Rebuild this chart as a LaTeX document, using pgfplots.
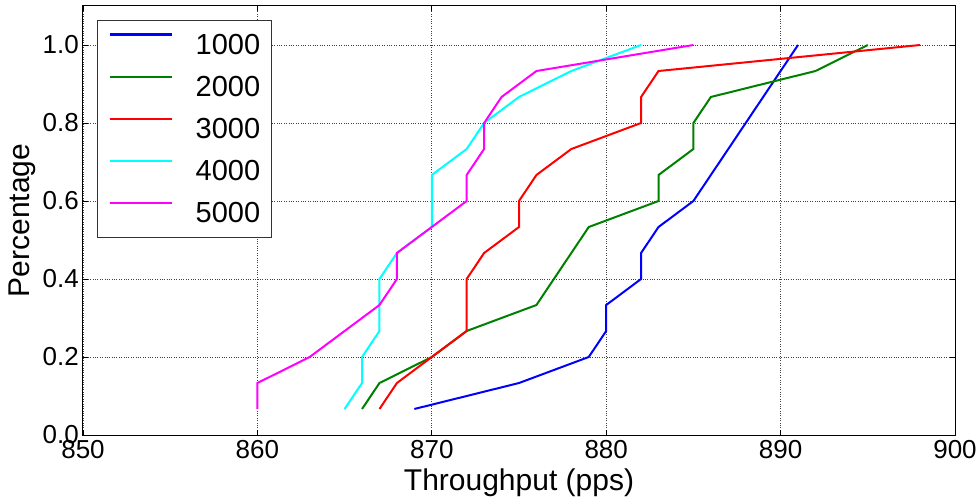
\documentclass[border=0pt]{standalone}
\usepackage{fontspec}
\setmainfont{Liberation Sans}
\usepackage{pgfplots}
\usepackage{pgfplotstable}
\pgfplotsset{compat=1.18}

\definecolor{mblue}{RGB}{0,0,255}
\definecolor{mgreen}{RGB}{0,128,0}
\definecolor{mred}{RGB}{255,0,0}
\definecolor{mcyan}{RGB}{0,255,255}
\definecolor{mmagenta}{RGB}{255,0,255}

% throughput (pps) of each run, sorted; y = i/15
\pgfplotstableread{
y      a    b    c    d    e
0.0667 869  866  867  865  860
0.1333 875  867  868  866  860
0.2000 879  870  870  866  863
0.2667 880  872  872  867  865
0.3333 880  876  872  867  867
0.4000 882  877  872  867  868
0.4667 882  878  873  868  868
0.5333 883  879  875  870  870
0.6000 885  883  875  870  872
0.6667 886  883  876  870  872
0.7333 887  885  878  872  873
0.8000 888  885  882  873  873
0.8667 889  886  882  875  874
0.9333 890  892  883  878  876
1.0000 891  895  898  882  885
}\runs

\begin{document}
\begin{tikzpicture}
\useasboundingbox (-83bp,-65bp) rectangle (897bp,435bp);
\begin{axis}[
  scale only axis, width=872bp, height=429bp,
  xmin=850, xmax=900, ymin=0, ymax=1.1,
  xtick={850,860,...,900}, ytick={0,0.2,0.4,0.6,0.8,1.0},
  yticklabel style={/pgf/number format/fixed, /pgf/number format/fixed zerofill, /pgf/number format/precision=1},
  /pgf/number format/assume math mode=true,
  tick label style={font=\fontsize{26bp}{30bp}\selectfont, inner sep=0pt},
  xticklabel style={anchor=north, yshift=-5bp},
  yticklabel style={anchor=east, xshift=-4bp},
  tick align=inside, tick pos=both, major tick length=5bp,
  tick style={black, line width=0.8bp},
  axis line style={black, line width=1bp},
  grid=major, grid style={dotted, black!75, line width=0.7bp},
  xlabel={Throughput (pps)}, ylabel={Percentage},
  label style={font=\fontsize{30bp}{34bp}\selectfont, inner sep=0pt},
  xlabel style={at={(axis description cs:0.5,0)}, anchor=base, yshift=-55bp},
  ylabel style={at={(axis description cs:0,0.5)}, anchor=base, yshift=53bp},
  legend style={at={(axis description cs:0,1)}, anchor=north west, xshift=14bp, yshift=-14bp,
    draw=black!80, line width=0.8bp, inner xsep=11bp, inner ysep=13bp,
    font=\fontsize{29bp}{33bp}\selectfont, row sep=20bp, column sep=0bp,
    nodes={inner sep=0pt}},
  legend cell align=left,
  legend image code/.code={\draw[#1, line width=2.5bp] (0bp,10bp) -- (62bp,10bp); \path (85bp,10bp);},
  every axis plot/.append style={line width=2bp, no markers},
]
\addplot[mblue] table[x=a, y=y] {\runs};
\addplot[mgreen] table[x=b, y=y] {\runs};
\addplot[mred] table[x=c, y=y] {\runs};
\addplot[mcyan] table[x=d, y=y] {\runs};
\addplot[mmagenta] table[x=e, y=y] {\runs};
\legend{1000, 2000, 3000, 4000, 5000}
\end{axis}
\end{tikzpicture}
\end{document}
